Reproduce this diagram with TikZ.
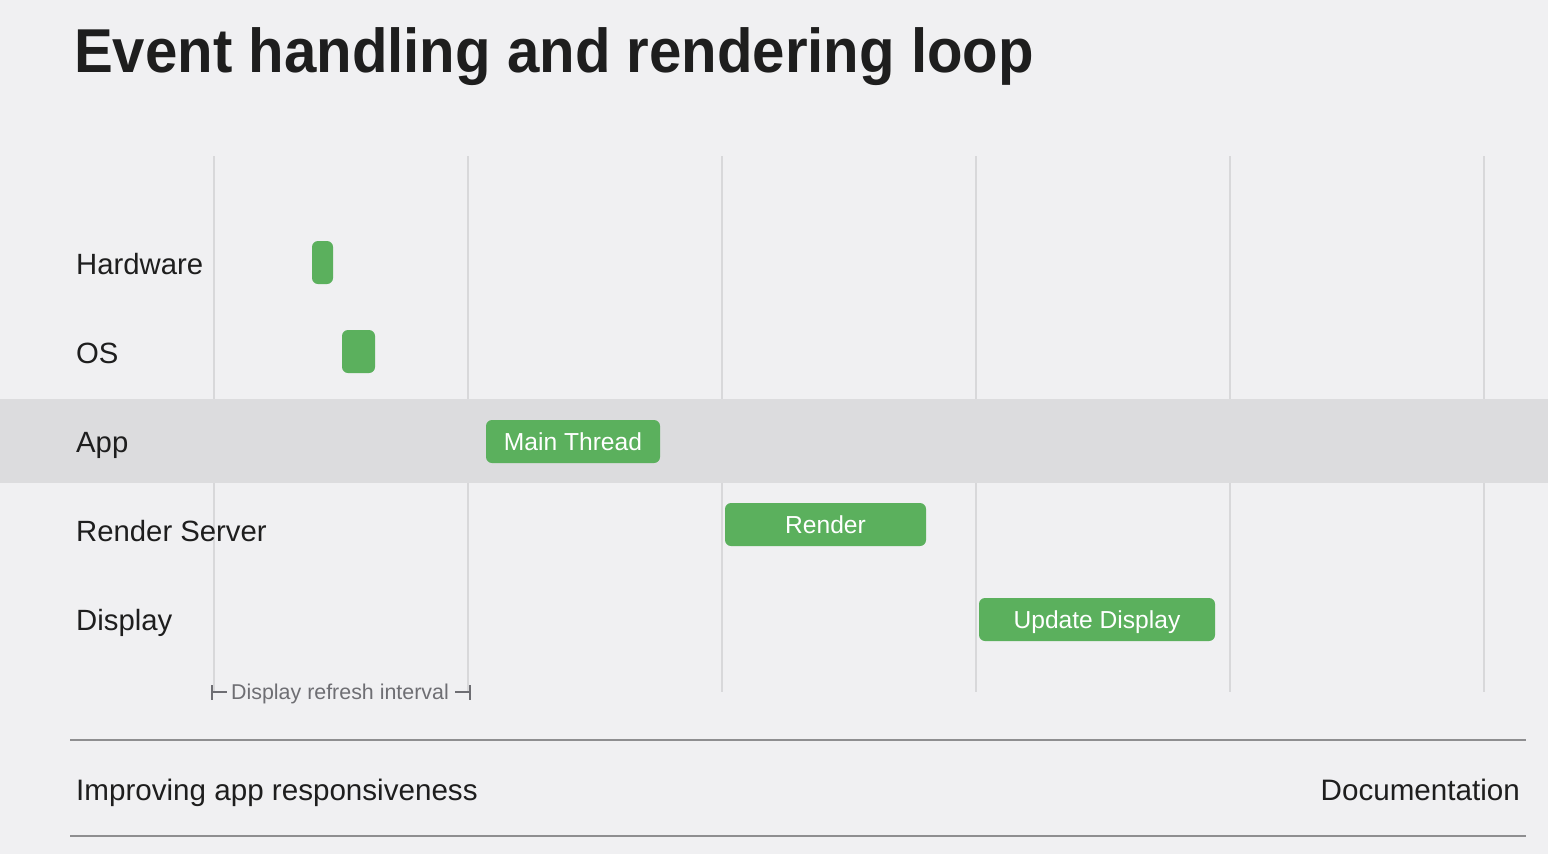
\documentclass[tikz,border=0pt]{standalone}
\usepackage{fontspec}
\setmainfont{Liberation Sans}
\definecolor{bg}{HTML}{F0F0F2}
\definecolor{band}{HTML}{DCDCDE}
\definecolor{gridc}{HTML}{D8D8DA}
\definecolor{barg}{HTML}{5BB05D}
\definecolor{ink}{HTML}{1E1E1E}
\definecolor{muted}{HTML}{6E6E73}
\definecolor{rule}{HTML}{8E8E90}
\tikzset{
  rowlabel/.style={anchor=base west, inner sep=0pt, text=ink, font=\fontsize{29.3}{32}\selectfont},
  bar/.style={fill=barg, draw=none, rounded corners=6pt, inner sep=0pt, text=white,
    font=\fontsize{24.6}{28}\selectfont, text height=17.6pt, text depth=0pt},
  gridline/.style={draw=gridc, line width=1.6pt},
  ruleline/.style={draw=rule, line width=1.3pt},
  tickline/.style={draw=muted, line width=2.2pt}
}
\begin{document}
\begin{tikzpicture}[x=1pt,y=-1pt]
\fill[bg] (0,0) rectangle (1548,854);
\useasboundingbox (0,0) rectangle (1548,854);
% grid lines
\foreach \gx in {214,468,722,976,1230,1484}{
  \coordinate (gt\gx) at (\gx,156);
  \coordinate (gb\gx) at (\gx,692);
  \draw[gridline] (gt\gx) -- (gb\gx);
}
% app band
\fill[band] (0,399) rectangle (1548,483);
% title
\node[anchor=base west, inner sep=0pt, text=ink, font=\bfseries\fontsize{62}{70}\selectfont] (title) at (74,72) {\scalebox{0.938}[1]{Event handling and rendering loop}};
% row labels
\node[rowlabel] (hw) at (76,274) {Hardware};
\node[rowlabel] (os) at (76,363) {OS};
\node[rowlabel] (app) at (76,452) {App};
\node[rowlabel] (rs) at (76,541) {Render Server};
\node[rowlabel] (disp) at (76,630) {Display};
% bars
\node[bar, minimum width=21pt, minimum height=43pt] (hwbar) at (322.5,262.5) {};
\node[bar, minimum width=33pt, minimum height=43pt] (osbar) at (358.5,351.5) {};
\node[bar, minimum width=174pt, minimum height=43pt] (mainbar) at (573,441.5) {Main Thread};
\node[bar, minimum width=201pt, minimum height=43pt] (renderbar) at (825.5,524.5) {Render};
\node[bar, minimum width=236pt, minimum height=43pt] (updbar) at (1097,619.5) {Update Display};
% refresh interval
\coordinate (il) at (212,692);
\coordinate (ir) at (470,692);
\draw[tickline] ([yshift=-7.5pt]il) -- ([yshift=7.5pt]il);
\draw[tickline] ([yshift=-7.5pt]ir) -- ([yshift=7.5pt]ir);
\draw[tickline] (il) -- ([xshift=15pt]il);
\draw[tickline] (ir) -- ([xshift=-15pt]ir);
\node[anchor=base, inner sep=0pt, text=muted, font=\fontsize{21.4}{24}\selectfont] (interval) at (340,699) {Display refresh interval};
% bottom rules
\coordinate (r1l) at (70,740); \coordinate (r1r) at (1526,740);
\coordinate (r2l) at (70,836); \coordinate (r2r) at (1526,836);
\draw[ruleline] (r1l) -- (r1r);
\draw[ruleline] (r2l) -- (r2r);
\node[anchor=base west, inner sep=0pt, text=ink, font=\fontsize{29.6}{33}\selectfont] (improve) at (76,800) {Improving app responsiveness};
\node[anchor=base east, inner sep=0pt, text=ink, font=\fontsize{29.6}{33}\selectfont] (docs) at (1520,800) {Documentation};
\end{tikzpicture}
\end{document}
